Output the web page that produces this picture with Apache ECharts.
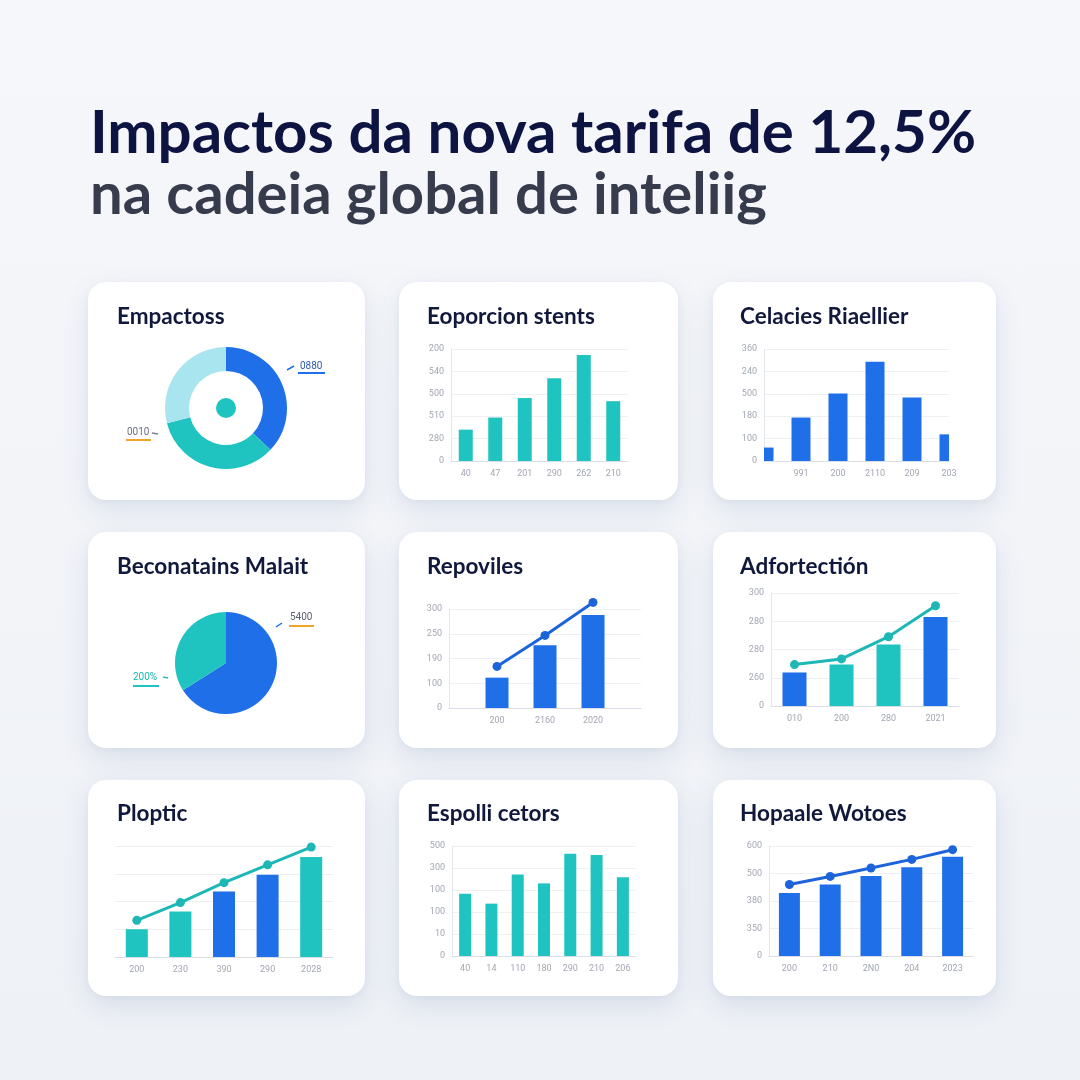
<!DOCTYPE html>
<html>
<head>
<meta charset="utf-8">
<title>Impactos da nova tarifa de 12,5%</title>
<script src="https://cdn.jsdelivr.net/npm/echarts@6.0.0/dist/echarts.min.js"></script>
<style>
  html, body { margin: 0; padding: 0; }
  body {
    width: 1080px; height: 1080px; position: relative; overflow: hidden;
    background: linear-gradient(180deg, #f6f7fa 0%, #eef1f6 100%);
  }
  .card {
    position: absolute; background: #fff; border-radius: 18px;
    box-shadow: 0 10px 28px rgba(60, 90, 150, 0.12), 0 2px 6px rgba(60, 90, 150, 0.05);
  }
  #chart { position: absolute; left: 0; top: 0; width: 1080px; height: 1080px; }
</style>
</head>
<body>
<div id="cards"></div>
<div id="chart"></div>
<script>
// textos
var titleLines = ['Impactos da nova tarifa de 12,5%', 'na cadeia global de inteliig'];
var panelTitles = [
  'Empactoss', 'Eoporcion stents', 'Celacies Riaellier',
  'Beconatains Malait', 'Repoviles', 'Adfortectión',
  'Ploptic', 'Espolli cetors', 'Hopaale Wotoes'
];

// painel 1 - rosca
var donutNames = ['a', 'b', 'c'];
var donutValues = [37, 34, 29];
var donutNotes = ['0880', '0010'];

// painel 2
var p2Cats = ['40', '47', '201', '290', '262', '210'];
var p2Ticks = ['0', '280', '510', '500', '540', '200'];
var p2Values = [140, 194, 281, 369, 473, 267];

// painel 3
var p3Cats = ['', '991', '200', '2110', '209', '203'];
var p3Ticks = ['0', '100', '180', '500', '240', '360'];
var p3Values = [60, 194, 301, 443, 284, 119];

// painel 4 - pizza
var pieNames = ['a', 'b'];
var pieValues = [66, 34];
var pieNotes = ['5400', '200%'];

// painel 5
var p5Cats = ['', '200', '2160', '2020', ''];
var p5Ticks = ['0', '100', '190', '250', '300'];
var p5Bars = ['-', 92, 190, 282, '-'];
var p5Line = ['-', 126, 220, 320, '-'];

// painel 6
var p6Cats = ['010', '200', '280', '2021'];
var p6Ticks = ['0', '260', '280', '280', '300'];
var p6Bars = [89, 110, 163, 236];
var p6Line = [110, 125, 184, 266];

// painel 7
var p7Cats = ['200', '230', '390', '290', '2028'];
var p7Ticks = ['', '', '', '', ''];
var p7Bars = [25, 41, 59, 74, 90];
var p7Line = [33, 49, 67, 83, 99];

// painel 8
var p8Cats = ['40', '14', '110', '180', '290', '210', '206'];
var p8Ticks = ['0', '10', '100', '100', '300', '500'];
var p8Values = [283, 238, 370, 330, 465, 459, 358];

// painel 9
var p9Cats = ['200', '210', '2N0', '204', '2023'];
var p9Ticks = ['0', '350', '380', '500', '600'];
var p9Bars = [344, 390, 437, 484, 541];
var p9Line = [390, 434, 480, 527, 580];

var BLUE = '#1f6fe8', TEAL = '#1fc3bf', LIGHT = '#a9e5ee', ORANGE = '#f0a52a';
var LINE_BLUE = '#1d64da', LINE_TEAL = '#1db7b5';
var p6Colors = [BLUE, TEAL, TEAL, BLUE];
var p7Colors = [TEAL, TEAL, BLUE, BLUE, TEAL];

// cartoes
var cols = [[88, 277], [399, 279], [713, 283]];
var rows = [[282, 218], [532, 216], [780, 216]];
var holder = document.getElementById('cards');
rows.forEach(function (r) {
  cols.forEach(function (c) {
    var d = document.createElement('div');
    d.className = 'card';
    d.style.left = c[0] + 'px'; d.style.top = r[0] + 'px';
    d.style.width = c[1] + 'px'; d.style.height = r[1] + 'px';
    holder.appendChild(d);
  });
});

function xCat(gi, cats, gap) {
  return {
    type: 'category', gridIndex: gi, data: cats, boundaryGap: gap,
    axisLine: { lineStyle: { color: '#d9dde5' } },
    axisTick: { show: false },
    axisLabel: { color: '#a2a7b2', fontSize: 9, margin: 8, interval: 0, fontFamily: 'Roboto' }
  };
}
function yVal(gi, ticks, step, showLine) {
  return {
    type: 'value', gridIndex: gi, min: 0, max: step * (ticks.length - 1), interval: step,
    axisLine: { show: showLine, lineStyle: { color: '#e3e6ec' } },
    axisTick: { show: false },
    axisLabel: {
      color: '#a2a7b2', fontSize: 9, margin: 7, fontFamily: 'Roboto',
      formatter: function (v) { return ticks[Math.round(v / step)]; }
    },
    splitLine: { lineStyle: { color: '#eef0f4' } }
  };
}
function bars(gi, data, width, color) {
  return { type: 'bar', xAxisIndex: gi, yAxisIndex: gi, data: data, barWidth: width, itemStyle: { color: color }, silent: true };
}
function line(gi, data, color) {
  return {
    type: 'line', xAxisIndex: gi, yAxisIndex: gi, data: data, symbol: 'circle', symbolSize: 9,
    lineStyle: { width: 3, color: color }, itemStyle: { color: color }, clip: false, z: 3, silent: true
  };
}
// barras cortadas pela grade (a primeira fica metade fora do eixo)
function clippedBars(gi, values, width, color) {
  return {
    type: 'custom', xAxisIndex: gi, yAxisIndex: gi, silent: true, clip: true,
    data: values.map(function (v, i) { return [i, v]; }),
    renderItem: function (params, api) {
      var top = api.coord([api.value(0), api.value(1)]);
      var base = api.coord([api.value(0), 0]);
      var cs = params.coordSys;
      var shape = echarts.graphic.clipRectByRect(
        { x: top[0] - width / 2, y: top[1], width: width, height: base[1] - top[1] },
        { x: cs.x, y: cs.y, width: cs.width, height: cs.height }
      );
      return shape && { type: 'rect', shape: shape, style: { fill: color } };
    }
  };
}

var grids = [
  { left: 451, top: 349, width: 177, height: 112 },  // p2
  { left: 764, top: 349, width: 185, height: 112 },  // p3
  { left: 449, top: 609, width: 192, height: 99 },   // p5
  { left: 771, top: 593, width: 188, height: 113 },  // p6
  { left: 115, top: 846, width: 218, height: 111 },  // p7
  { left: 452, top: 846, width: 184, height: 110 },  // p8
  { left: 769, top: 846, width: 204, height: 110 }   // p9
];

var titleX = [117, 427, 740], titleY = [317, 567, 814];
var graphics = [
  { type: 'text', x: 90, y: 134, style: { text: titleLines[0], font: 'bold 60px Lato', fill: '#0d1442', verticalAlign: 'middle' } },
  { type: 'text', x: 90, y: 195, style: { text: titleLines[1], font: 'bold 58px Lato', fill: '#373c4d', verticalAlign: 'middle' } }
];
panelTitles.forEach(function (t, i) {
  graphics.push({ type: 'text', x: titleX[i % 3], y: titleY[Math.floor(i / 3)],
    style: { text: t, font: 'bold 22.5px Lato', fill: '#10183b', verticalAlign: 'middle' } });
});
// notas das pizzas
graphics.push(
  { type: 'line', shape: { x1: 287, y1: 370, x2: 294, y2: 366 }, style: { stroke: BLUE, lineWidth: 1.5 } },
  { type: 'text', x: 300, y: 366, style: { text: donutNotes[0], font: '10px Roboto', fill: '#2d5bb0', verticalAlign: 'middle' } },
  { type: 'rect', shape: { x: 298, y: 372, width: 27, height: 2 }, style: { fill: BLUE } },
  { type: 'text', x: 127, y: 432, style: { text: donutNotes[1], font: '10px Roboto', fill: '#6b7080', verticalAlign: 'middle' } },
  { type: 'rect', shape: { x: 126, y: 439, width: 25, height: 2 }, style: { fill: ORANGE } },
  { type: 'line', shape: { x1: 152, y1: 433, x2: 158, y2: 434 }, style: { stroke: '#7a8090', lineWidth: 1.5 } },
  { type: 'line', shape: { x1: 276, y1: 627, x2: 282, y2: 623 }, style: { stroke: BLUE, lineWidth: 1.5 } },
  { type: 'text', x: 290, y: 617, style: { text: pieNotes[0], font: '10px Roboto', fill: '#5a6070', verticalAlign: 'middle' } },
  { type: 'rect', shape: { x: 289, y: 625, width: 25, height: 2 }, style: { fill: ORANGE } },
  { type: 'text', x: 133, y: 677, style: { text: pieNotes[1], font: '10px Roboto', fill: '#1bb5b5', verticalAlign: 'middle' } },
  { type: 'rect', shape: { x: 133, y: 685, width: 26, height: 2 }, style: { fill: TEAL } },
  { type: 'line', shape: { x1: 163, y1: 677, x2: 168, y2: 678 }, style: { stroke: TEAL, lineWidth: 1.5 } }
);

var option = {
  animation: false,
  backgroundColor: 'transparent',
  graphic: graphics,
  grid: grids,
  xAxis: [
    xCat(0, p2Cats, true), xCat(1, p3Cats, false), xCat(2, p5Cats, false), xCat(3, p6Cats, true),
    xCat(4, p7Cats, true), xCat(5, p8Cats, true), xCat(6, p9Cats, true)
  ],
  yAxis: [
    yVal(0, p2Ticks, 100, true), yVal(1, p3Ticks, 100, true), yVal(2, p5Ticks, 75, true), yVal(3, p6Ticks, 75, true),
    yVal(4, p7Ticks, 25, false), yVal(5, p8Ticks, 100, true), yVal(6, p9Ticks, 150, true)
  ],
  series: [
    {
      type: 'pie', center: [226, 408], radius: [37, 61], startAngle: 90, silent: true,
      label: { show: false }, labelLine: { show: false }, itemStyle: { borderWidth: 0 },
      data: donutNames.map(function (n, i) { return { name: n, value: donutValues[i], itemStyle: { color: [BLUE, TEAL, LIGHT][i] } }; })
    },
    {
      type: 'pie', center: [226, 408], radius: [0, 10], silent: true,
      label: { show: false }, itemStyle: { borderWidth: 0, color: TEAL }, data: [{ name: 'c', value: 1 }]
    },
    {
      type: 'pie', center: [226, 663], radius: [0, 51], startAngle: 90, silent: true,
      label: { show: false }, labelLine: { show: false }, itemStyle: { borderWidth: 0 },
      data: pieNames.map(function (n, i) { return { name: n, value: pieValues[i], itemStyle: { color: [BLUE, TEAL][i] } }; })
    },
    bars(0, p2Values, 14, TEAL),
    clippedBars(1, p3Values, 19, BLUE),
    bars(2, p5Bars, 23, BLUE),
    line(2, p5Line, LINE_BLUE),
    bars(3, p6Bars, 24, function (p) { return p6Colors[p.dataIndex]; }),
    line(3, p6Line, LINE_TEAL),
    bars(4, p7Bars, 22, function (p) { return p7Colors[p.dataIndex]; }),
    line(4, p7Line, LINE_TEAL),
    bars(5, p8Values, 12, TEAL),
    bars(6, p9Bars, 21, BLUE),
    line(6, p9Line, LINE_BLUE)
  ]
};

var chart = echarts.init(document.getElementById('chart'));
chart.setOption(option);
</script>
</body>
</html>
